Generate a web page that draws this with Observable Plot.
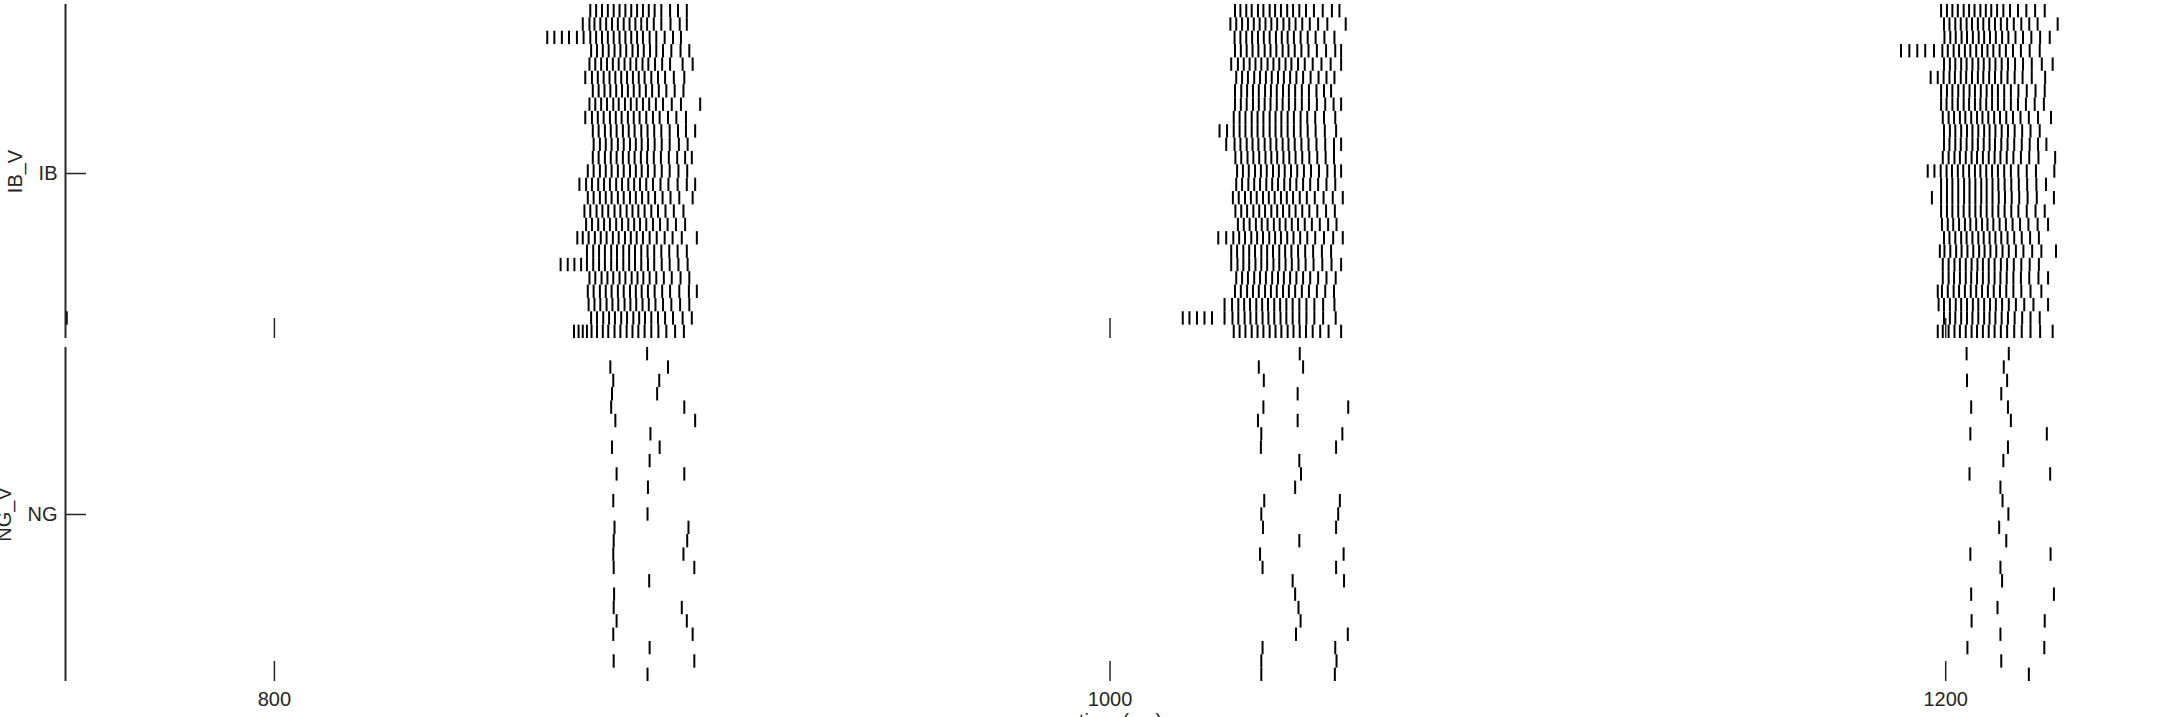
<!DOCTYPE html>
<html><head><meta charset="utf-8">
<script src="https://cdn.jsdelivr.net/npm/d3@7"></script>
<script src="https://cdn.jsdelivr.net/npm/@observablehq/plot@0.6"></script>
<style>
html,body{margin:0;padding:0;background:#fff;}
#chart svg{display:block;}
</style></head><body><div id="chart"></div>
<script>
// x axis (time, ms)
const xDomain = [750, 1255];
const xTicks = [800, 1000, 1200];
const xLabel = "time (ms)";
const populations = ["IB", "NG"];
const populationLabels = ["IB_V", "NG_V"];
const populationTickAt = [13.15, 13];
const nNeurons = 25;

// IB spikes, burst 1 (one array per neuron, top row first)
const ibBurst1 = [
[875.6,877.0,878.4,879.8,881.2,882.6,884.0,885.4,886.8,888.2,889.6,891.0,892.6,894.7,896.6,898.7],
[873.8,875.4,876.6,878.0,879.4,880.8,882.2,883.6,885.0,886.4,887.8,889.2,890.8,892.6,894.8,897.0,898.7],
[865.3,867.0,868.8,870.5,872.4,874.0,875.6,877.0,878.4,879.8,881.2,882.6,884.0,885.4,886.8,888.2,889.8,891.4,893.4,895.4,897.3],
[875.8,877.2,878.6,880.0,881.4,882.8,884.2,885.7,887.0,888.4,889.9,891.4,893.0,895.0,897.2,899.3],
[875.4,876.8,878.2,879.6,881.0,882.4,883.8,885.2,886.6,888.1,889.5,891.1,892.8,894.7,897.7,900.1],
[874.4,876.0,877.4,878.8,880.2,881.6,883.0,884.4,885.8,887.2,888.6,890.2,891.8,893.5,895.6,898.1],
[876.2,877.6,879.0,880.4,881.8,883.2,884.6,886.0,887.4,888.9,890.4,892.0,893.8,895.8,897.9],
[875.4,876.8,878.2,879.6,881.1,882.4,883.9,885.3,886.7,888.2,889.7,891.3,893.0,895.1,897.3,901.9],
[874.4,876.0,877.4,878.8,880.3,881.7,883.1,884.6,886.0,887.4,889.0,890.6,892.2,894.2,896.2,898.5],
[876.2,877.6,879.1,880.5,881.9,883.4,884.8,886.2,887.8,889.3,890.9,892.6,894.6,896.6,898.5,900.7],
[876.4,877.9,879.3,880.7,882.2,883.6,885.1,886.5,887.9,889.4,891.0,892.7,894.6,896.8,898.9],
[876.2,877.6,879.1,880.5,881.9,883.4,884.8,886.2,887.7,889.2,890.8,892.5,894.4,896.4,898.3,899.9],
[875.0,876.4,877.9,879.3,880.7,882.2,883.6,885.1,886.5,887.9,889.4,891.0,892.7,894.6,896.7,898.8],
[873.0,874.6,876.0,877.5,878.9,880.3,881.8,883.2,884.7,886.1,887.5,889.0,890.6,892.4,894.3,896.5,898.7,900.7],
[875.0,876.4,877.9,879.3,880.7,882.2,883.6,885.1,886.5,888.0,889.5,891.1,892.9,894.8,896.9,900.1],
[874.2,875.6,877.1,878.5,879.9,881.4,882.8,884.3,885.7,887.1,888.6,890.2,891.8,893.6,895.6,897.9],
[874.6,876.0,877.5,878.9,880.3,881.8,883.2,884.7,886.1,887.5,889.0,890.6,892.3,894.1,896.1,898.3],
[872.5,873.8,875.2,876.7,878.1,879.5,881.0,882.4,883.9,885.3,886.7,888.2,889.8,891.5,893.4,895.3,897.5,901.1],
[874.8,876.3,877.7,879.1,880.6,882.0,883.5,884.9,886.3,887.8,889.3,890.9,892.6,894.5,896.5,898.7],
[868.5,870.2,871.8,873.4,874.8,876.3,877.7,879.1,880.6,882.0,883.5,884.9,886.3,887.8,889.4,890.9,892.7,894.6,896.7,898.9],
[875.4,876.8,878.3,879.7,881.1,882.6,884.0,885.5,886.9,888.3,889.8,891.4,893.2,895.1,897.2,899.3],
[875.0,876.4,877.9,879.3,880.7,882.2,883.6,885.1,886.5,887.9,889.4,891.0,892.8,894.7,896.9,899.2,901.1],
[875.2,876.6,878.0,879.5,880.9,882.3,883.8,885.2,886.6,888.1,889.6,891.2,893.0,895.0,897.1,899.3],
[875.8,877.2,878.7,880.1,881.5,883.0,884.4,885.9,887.3,888.7,890.2,891.8,893.5,895.4,897.7,899.9],
[871.7,872.8,873.8,874.8,875.9,877.2,878.6,879.9,881.4,882.8,884.3,885.7,887.1,888.6,890.2,891.9,893.8,895.9,898.0]
];

// IB spikes, burst 2
const ibBurst2 = [
[1029.9,1031.2,1032.6,1033.9,1035.4,1036.7,1038.2,1039.5,1040.9,1042.4,1043.8,1045.3,1046.9,1048.8,1050.9,1053.1,1054.9],
[1028.8,1030.2,1031.6,1033.0,1034.4,1035.8,1037.2,1038.6,1040.0,1041.5,1042.9,1044.4,1046.0,1047.8,1049.8,1052.0,1056.4],
[1029.8,1031.2,1032.6,1034.0,1035.4,1036.8,1038.2,1039.7,1041.1,1042.5,1044.0,1045.6,1047.3,1049.2,1051.3,1053.7],
[1029.9,1031.3,1032.7,1034.1,1035.5,1037.0,1038.4,1039.8,1041.3,1042.7,1044.2,1045.8,1047.5,1049.5,1051.7,1053.9,1055.3],
[1029.0,1030.6,1032.0,1033.4,1034.8,1036.2,1037.7,1039.1,1040.5,1042.0,1043.4,1045.0,1046.6,1048.5,1050.6,1052.8,1055.3],
[1030.2,1031.6,1033.0,1034.5,1035.9,1037.3,1038.7,1040.2,1041.6,1043.1,1044.6,1046.2,1048.0,1049.9,1051.8,1053.7],
[1029.9,1031.4,1032.8,1034.2,1035.6,1037.1,1038.5,1039.9,1041.4,1042.8,1044.3,1045.9,1047.6,1049.4,1051.2,1052.9],
[1029.9,1031.3,1032.7,1034.2,1035.6,1037.0,1038.4,1039.9,1041.3,1042.8,1044.3,1045.9,1047.6,1049.5,1051.5,1053.5,1055.3],
[1029.6,1031.0,1032.4,1033.9,1035.3,1036.7,1038.2,1039.6,1041.0,1042.5,1044.0,1045.6,1047.2,1049.1,1051.2,1053.9],
[1026.2,1028.0,1029.6,1031.0,1032.4,1033.9,1035.3,1036.7,1038.2,1039.6,1041.0,1042.5,1044.0,1045.6,1047.3,1049.2,1051.4,1054.1],
[1027.8,1029.8,1031.2,1032.7,1034.1,1035.5,1037.0,1038.4,1039.8,1041.3,1042.7,1044.2,1045.8,1047.5,1049.4,1051.5,1053.6,1055.3],
[1030.0,1031.4,1032.9,1034.3,1035.7,1037.2,1038.6,1040.0,1041.5,1042.9,1044.4,1046.0,1047.7,1049.6,1051.6,1053.6],
[1030.4,1031.8,1033.2,1034.7,1036.1,1037.5,1039.0,1040.4,1041.8,1043.3,1044.8,1046.4,1048.1,1050.0,1052.0,1053.8,1055.3],
[1030.2,1031.6,1033.1,1034.5,1035.9,1037.4,1038.8,1040.2,1041.7,1043.1,1044.6,1046.2,1047.9,1049.8,1051.8,1053.9],
[1029.4,1030.8,1032.3,1033.7,1035.1,1036.6,1038.0,1039.4,1040.9,1042.3,1043.8,1045.4,1047.1,1049.0,1051.1,1053.3,1055.7],
[1030.0,1031.4,1032.8,1034.3,1035.7,1037.1,1038.6,1040.0,1041.4,1042.9,1044.4,1046.0,1047.7,1049.6,1051.7,1053.8],
[1030.6,1032.0,1033.4,1034.9,1036.3,1037.7,1039.2,1040.6,1042.0,1043.5,1045.0,1046.6,1048.3,1050.2,1052.2,1054.2],
[1025.9,1027.8,1029.5,1030.9,1032.3,1033.8,1035.2,1036.6,1038.1,1039.5,1040.9,1042.4,1043.9,1045.5,1047.2,1049.1,1051.2,1053.4,1055.7],
[1029.0,1030.4,1031.9,1033.3,1034.7,1036.2,1037.6,1039.0,1040.5,1041.9,1043.4,1045.0,1046.7,1048.6,1050.7,1052.9],
[1029.0,1030.5,1031.9,1033.3,1034.8,1036.2,1037.6,1039.1,1040.5,1042.0,1043.5,1045.1,1046.8,1048.7,1050.8,1053.0,1055.3],
[1030.2,1031.6,1033.0,1034.5,1035.9,1037.3,1038.8,1040.2,1041.6,1043.1,1044.6,1046.2,1047.9,1049.8,1051.8,1054.0],
[1029.9,1031.3,1032.8,1034.2,1035.6,1037.1,1038.5,1039.9,1041.4,1042.8,1044.3,1045.9,1047.6,1049.5,1051.5,1053.6],
[1027.4,1029.2,1030.7,1032.1,1033.5,1035.0,1036.4,1037.8,1039.3,1040.7,1042.2,1043.7,1045.3,1047.0,1048.9,1051.0,1053.7],
[1017.4,1019.0,1020.8,1022.6,1024.4,1027.4,1029.3,1030.7,1032.2,1033.6,1035.0,1036.5,1037.9,1039.3,1040.8,1042.2,1043.7,1045.3,1047.0,1048.9,1051.0,1054.0],
[1029.6,1031.0,1032.4,1033.9,1035.3,1036.7,1038.2,1039.6,1041.0,1042.5,1043.9,1045.4,1046.9,1048.5,1050.3,1052.3,1055.3]
];

// IB spikes, burst 3
const ibBurst3 = [
[1198.9,1200.3,1201.6,1202.9,1204.3,1205.6,1206.9,1208.3,1209.6,1210.9,1212.3,1213.8,1215.4,1217.3,1219.3,1221.4,1223.7],
[1199.6,1200.9,1202.3,1203.6,1205.0,1206.3,1207.7,1209.0,1210.4,1211.8,1213.2,1214.7,1216.3,1218.1,1220.0,1222.0,1226.8],
[1199.7,1201.1,1202.4,1203.8,1205.1,1206.5,1207.9,1209.2,1210.6,1212.0,1213.5,1215.0,1216.7,1218.5,1220.5,1222.6,1224.9],
[1189.3,1191.3,1193.2,1195.1,1197.2,1199.2,1200.5,1201.9,1203.2,1204.6,1205.9,1207.3,1208.7,1210.0,1211.4,1212.9,1214.4,1216.1,1218.0,1220.1,1222.5],
[1199.6,1201.0,1202.3,1203.7,1205.0,1206.4,1207.8,1209.1,1210.5,1211.9,1213.4,1214.9,1216.6,1218.5,1220.6,1223.0,1225.6],
[1196.4,1198.1,1199.5,1200.9,1202.2,1203.6,1204.9,1206.3,1207.7,1209.0,1210.4,1211.8,1213.3,1214.8,1216.5,1218.4,1220.6,1223.8],
[1198.9,1200.3,1201.6,1203.0,1204.3,1205.7,1207.0,1208.4,1209.8,1211.1,1212.5,1214.0,1215.6,1217.4,1219.4,1221.5,1223.7],
[1198.9,1200.2,1201.6,1202.9,1204.3,1205.6,1207.0,1208.3,1209.7,1211.1,1212.5,1214.0,1215.6,1217.3,1219.2,1221.3,1223.5],
[1199.3,1200.7,1202.0,1203.4,1204.7,1206.1,1207.5,1208.8,1210.2,1211.6,1213.0,1214.5,1216.1,1217.9,1219.9,1222.1,1225.2],
[1199.6,1201.0,1202.3,1203.7,1205.1,1206.4,1207.8,1209.2,1210.5,1211.9,1213.4,1214.9,1216.5,1218.3,1220.3,1222.5],
[1199.6,1200.9,1202.3,1203.6,1205.0,1206.4,1207.7,1209.1,1210.5,1211.8,1213.3,1214.8,1216.4,1218.2,1220.1,1222.1,1224.1],
[1199.3,1200.7,1202.1,1203.4,1204.8,1206.2,1207.5,1208.9,1210.3,1211.7,1213.1,1214.6,1216.2,1218.0,1220.0,1222.2,1226.2],
[1195.7,1197.3,1198.8,1200.2,1201.5,1202.9,1204.2,1205.6,1207.0,1208.3,1209.7,1211.1,1212.5,1214.0,1215.6,1217.4,1219.4,1221.6,1226.0],
[1198.9,1200.3,1201.6,1203.0,1204.4,1205.7,1207.1,1208.5,1209.8,1211.2,1212.6,1214.1,1215.7,1217.5,1219.5,1221.7,1224.0],
[1196.7,1198.9,1200.3,1201.6,1203.0,1204.4,1205.7,1207.1,1208.5,1209.8,1211.2,1212.7,1214.2,1215.8,1217.6,1219.6,1221.8,1225.9],
[1198.9,1200.3,1201.6,1203.0,1204.3,1205.7,1207.1,1208.4,1209.8,1211.2,1212.6,1214.1,1215.7,1217.4,1219.4,1221.5,1223.7],
[1199.1,1200.5,1201.8,1203.2,1204.6,1205.9,1207.3,1208.7,1210.0,1211.4,1212.9,1214.4,1216.0,1217.8,1219.8,1222.0,1224.5],
[1199.6,1200.9,1202.3,1203.7,1205.0,1206.4,1207.8,1209.1,1210.5,1211.9,1213.3,1214.8,1216.4,1218.2,1220.2,1222.3],
[1198.6,1199.7,1201.1,1202.5,1203.8,1205.2,1206.6,1208.0,1209.3,1210.7,1212.1,1213.6,1215.1,1216.8,1218.6,1220.7,1222.9,1226.4],
[1199.3,1200.7,1202.1,1203.4,1204.8,1206.2,1207.6,1208.9,1210.3,1211.7,1213.2,1214.7,1216.3,1218.1,1220.1,1222.3],
[1199.3,1200.7,1202.0,1203.4,1204.8,1206.1,1207.5,1208.9,1210.3,1211.7,1213.1,1214.6,1216.2,1218.0,1220.0,1222.2,1224.5],
[1198.1,1199.1,1200.5,1201.9,1203.2,1204.6,1206.0,1207.3,1208.7,1210.1,1211.5,1213.0,1214.5,1216.2,1218.1,1220.3,1222.9],
[1198.3,1199.6,1201.0,1202.4,1203.7,1205.1,1206.5,1207.8,1209.2,1210.6,1212.0,1213.5,1215.1,1216.8,1218.8,1221.0,1224.5],
[1199.6,1201.0,1202.3,1203.7,1205.1,1206.4,1207.8,1209.2,1210.5,1211.9,1213.4,1214.9,1216.5,1218.3,1220.3,1222.5],
[1198.1,1199.3,1200.7,1202.1,1203.4,1204.8,1206.2,1207.5,1208.9,1210.3,1211.7,1213.2,1214.7,1216.4,1218.2,1220.3,1222.6,1225.6]
];

// isolated IB spike near the start of the window
const ibLoneRows = [24];
const ibLoneTimes = [750.3];

// NG spikes (one array per neuron, top row first)
const ngSpikes = [
[889.2,1045.4,1205.0,1215.1],
[880.4,894.2,1035.6,1046.2,1213.9],
[881.1,892.1,1036.8,1205.1,1214.7],
[880.8,891.6,1044.9,1213.3],
[880.6,898.1,1036.7,1057.0,1206.1,1214.9],
[881.6,900.7,1035.4,1044.9,1215.6],
[890.0,1036.2,1055.6,1205.9,1224.2],
[880.8,892.2,1036.1,1054.1,1214.9],
[889.8,1045.3,1213.8],
[881.9,898.1,1045.7,1205.7,1225.0],
[889.4,1044.3,1213.1],
[881.1,1036.9,1055.0,1213.6],
[889.3,1036.2,1054.6,1215.0],
[881.4,899.1,1036.6,1054.1,1212.8],
[881.2,898.8,1045.3,1214.5],
[881.1,897.9,1035.9,1055.9,1205.9,1225.1],
[881.2,900.5,1036.5,1054.1,1213.1],
[889.7,1043.7,1056.0,1213.5],
[881.3,1044.3,1206.1,1225.9],
[881.2,897.5,1045.1,1212.4],
[881.9,898.7,1045.6,1206.2,1223.7],
[881.1,900.1,1044.5,1056.9,1213.1],
[889.8,1036.5,1053.9,1205.2,1223.6],
[881.2,900.5,1036.2,1054.2,1213.3],
[889.3,1036.2,1053.8,1219.9]
];

function toTable(rowsArrays) {
  return rowsArrays.flatMap((ts, i) => ts.map(t => ({row: i + 1, t})));
}
const ibData = [
  ...toTable(ibBurst1), ...toTable(ibBurst2), ...toTable(ibBurst3),
  ...ibLoneRows.map((r, i) => ({row: r, t: ibLoneTimes[i]}))
];
const ngData = toTable(ngSpikes);

const ink = "#262626";
const font = "'Liberation Sans', Arial, Helvetica, sans-serif";

function panel(data, idx, isBottom) {
  const height = isBottom ? 400 : 343;
  return Plot.plot({
    width: 2175,
    height,
    marginLeft: 65,
    marginRight: 0,
    marginTop: 4,
    marginBottom: isBottom ? 62 : 5,
    style: {fontFamily: font, fontSize: "20px", color: ink, background: "#fff", overflow: "visible"},
    x: {domain: xDomain},
    y: {domain: [0.5, nNeurons + 0.5], reverse: true},
    marks: [
      Plot.ruleX(data, {x: "t", y1: d => d.row - 0.5, y2: d => d.row + 0.5, stroke: "#000", strokeWidth: 2}),
      Plot.axisY({
        ticks: [populationTickAt[idx]], tickFormat: () => populations[idx],
        tickSize: -21, tickPadding: 29, strokeWidth: 1.5, stroke: ink, fill: ink,
        label: populationLabels[idx], labelAnchor: "center", labelArrow: "none",
        labelOffset: isBottom ? 69 : 58, fontSize: 20
      }),
      Plot.axisX({
        ticks: xTicks, tickFormat: isBottom ? (d => String(d)) : (() => ""),
        tickSize: -20, tickPadding: 30, strokeWidth: 1.5, stroke: ink, fill: ink,
        label: isBottom ? xLabel : null, labelAnchor: "center", labelArrow: "none", labelOffset: 46, fontSize: 20
      }),
      Plot.ruleX([xDomain[0]], {stroke: ink, strokeWidth: 2})
    ]
  });
}

const root = document.getElementById("chart");
root.appendChild(panel(ibData, 0, false));
root.appendChild(panel(ngData, 1, true));
</script>
</body></html>
